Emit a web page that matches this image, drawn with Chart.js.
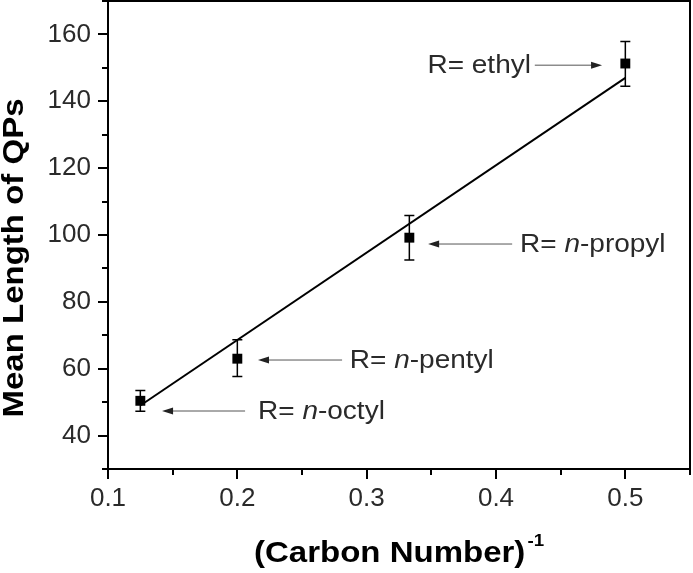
<!DOCTYPE html>
<html>
<head>
<meta charset="utf-8">
<script src="https://cdn.jsdelivr.net/npm/chart.js@4.4.1/dist/chart.umd.min.js"></script>
<style>
  html, body { margin: 0; padding: 0; background: #fff; }
</style>
</head>
<body>
<canvas id="chart" width="693" height="573"></canvas>
<script>
// data
const carbonInv = [0.125, 0.2, 0.333, 0.5];
const meanLength = [50.4, 63.0, 99.2, 151.3];
const errLow = [47.3, 57.7, 92.5, 144.5];
const errHigh = [53.5, 68.7, 105.8, 157.9];
const fitX = [0.125, 0.5];
const fitY = [49.0, 147.0];
const xTicks = [0.1, 0.2, 0.3, 0.4, 0.5];
const yTicks = [40, 60, 80, 100, 120, 140, 160];

// labels with arrows (data units)
const notes = [
  { pre: "R= ", it: "", post: "ethyl", y: 150.8, tail: 0.430, head: 0.482, tx: 0.427, align: "right" },
  { pre: "R= ", it: "n", post: "-propyl", y: 97.3, tail: 0.4125, head: 0.3475, tx: 0.4186, align: "left" },
  { pre: "R= ", it: "n", post: "-pentyl", y: 62.6, tail: 0.281, head: 0.216, tx: 0.287, align: "left" },
  { pre: "R= ", it: "n", post: "-octyl", y: 47.35, tail: 0.206, head: 0.1418, tx: 0.216, align: "left" }
];

const FONT = "'Liberation Sans', Arial, sans-serif";

const extras = {
  id: "extras",
  afterDatasetsDraw(chart) {
    const { ctx, chartArea: a, scales: { x, y } } = chart;
    ctx.save();
    ctx.strokeStyle = "#000";

    // error bars
    ctx.lineWidth = 1.5;
    carbonInv.forEach((v, i) => {
      const px = x.getPixelForValue(v);
      const lo = y.getPixelForValue(errLow[i]);
      const hi = y.getPixelForValue(errHigh[i]);
      ctx.beginPath();
      ctx.moveTo(px, lo); ctx.lineTo(px, hi);
      ctx.moveTo(px - 5, lo); ctx.lineTo(px + 5, lo);
      ctx.moveTo(px - 5, hi); ctx.lineTo(px + 5, hi);
      ctx.stroke();
    });

    // frame
    ctx.lineWidth = 2;
    ctx.strokeRect(a.left, a.top, a.right - a.left, a.bottom - a.top);

    // tick marks, outside
    ctx.beginPath();
    for (let k = 0; k <= 9; k++) {
      const v = 0.1 + k * 0.05;
      const px = Math.round(x.getPixelForValue(v));
      const len = k % 2 === 0 ? 10 : 6;
      ctx.moveTo(px, a.bottom); ctx.lineTo(px, a.bottom + len);
    }
    for (let v = 30; v <= 170; v += 10) {
      const py = Math.round(y.getPixelForValue(v));
      const len = v % 20 === 0 ? 10 : 6;
      ctx.moveTo(a.left, py); ctx.lineTo(a.left - len, py);
    }
    ctx.stroke();

    // annotations
    notes.forEach(n => {
      const py = y.getPixelForValue(n.y);
      const t = x.getPixelForValue(n.tail);
      const h = x.getPixelForValue(n.head);
      const dir = h > t ? 1 : -1;
      ctx.strokeStyle = "#555";
      ctx.fillStyle = "#222";
      ctx.lineWidth = 1;
      ctx.beginPath();
      ctx.moveTo(t, py); ctx.lineTo(h - dir * 8, py);
      ctx.stroke();
      ctx.beginPath();
      ctx.moveTo(h, py);
      ctx.lineTo(h - dir * 11, py - 3.5);
      ctx.lineTo(h - dir * 11, py + 3.5);
      ctx.closePath();
      ctx.fill();

      const sx = 1.12;
      const parts = [
        [n.pre, "25px " + FONT],
        [n.it, "italic 25px " + FONT],
        [n.post, "25px " + FONT]
      ];
      let w = 0;
      parts.forEach(p => { ctx.font = p[1]; w += ctx.measureText(p[0]).width; });
      const ax = x.getPixelForValue(n.tx);
      const start = n.align === "right" ? ax - w * sx : ax;
      ctx.save();
      ctx.translate(start, py);
      ctx.scale(sx, 1);
      ctx.fillStyle = "#2a2a2a";
      ctx.textBaseline = "middle";
      let cx = 0;
      parts.forEach(p => {
        ctx.font = p[1];
        ctx.fillText(p[0], cx, 1);
        cx += ctx.measureText(p[0]).width;
      });
      ctx.restore();
    });

    // axis titles
    ctx.fillStyle = "#000";
    ctx.save();
    ctx.translate(23, 258);
    ctx.rotate(-Math.PI / 2);
    ctx.scale(1.1, 1);
    ctx.font = "bold 30px " + FONT;
    ctx.textAlign = "center";
    ctx.textBaseline = "alphabetic";
    ctx.fillText("Mean Length of QPs", 0, 0);
    ctx.restore();

    ctx.save();
    ctx.font = "bold 30px " + FONT;
    const main = "(Carbon Number)";
    const mw = ctx.measureText(main).width * 1.1;
    ctx.font = "bold 17px " + FONT;
    const sw = ctx.measureText("-1").width * 1.1;
    const cxT = (a.left + a.right) / 2;
    const x0 = cxT - (mw + sw + 2) / 2;
    ctx.translate(x0, 562);
    ctx.scale(1.1, 1);
    ctx.font = "bold 30px " + FONT;
    ctx.fillText(main, 0, 0);
    ctx.font = "bold 17px " + FONT;
    ctx.fillText("-1", mw / 1.1 + 2, -16);
    ctx.restore();

    ctx.restore();
  }
};

new Chart(document.getElementById("chart"), {
  type: "scatter",
  data: {
    datasets: [
      {
        label: "QPs",
        data: carbonInv.map((v, i) => ({ x: v, y: meanLength[i] })),
        pointStyle: "rect",
        pointRadius: 7,
        pointBackgroundColor: "#000",
        pointBorderWidth: 0
      },
      {
        label: "fit",
        type: "line",
        data: fitX.map((v, i) => ({ x: v, y: fitY[i] })),
        borderColor: "#000",
        borderWidth: 2,
        pointRadius: 0,
        fill: false
      }
    ]
  },
  options: {
    responsive: false,
    animation: false,
    layout: { autoPadding: false, padding: { top: 1, right: 3, left: 0, bottom: 0 } },
    plugins: { legend: { display: false }, tooltip: { enabled: false } },
    scales: {
      x: {
        type: "linear",
        min: 0.1,
        max: 0.55,
        afterBuildTicks: s => { s.ticks = xTicks.map(value => ({ value })); },
        afterFit: s => { s.height = 104; s.paddingLeft = 0; s.paddingRight = 0; },
        grid: { display: false, drawTicks: false },
        border: { display: false },
        ticks: {
          padding: 14,
          maxRotation: 0,
          color: "#2a2a2a",
          font: { family: FONT, size: 26 },
          callback: v => v.toFixed(1)
        }
      },
      y: {
        min: 30,
        max: 170,
        afterBuildTicks: s => { s.ticks = yTicks.map(value => ({ value })); },
        afterFit: s => { s.width = 108; s.paddingTop = 0; s.paddingBottom = 0; },
        grid: { display: false, drawTicks: false },
        border: { display: false },
        ticks: {
          padding: 17,
          color: "#2a2a2a",
          font: { family: FONT, size: 26 },
          callback: v => String(v)
        }
      }
    }
  },
  plugins: [extras]
});
</script>
</body>
</html>
